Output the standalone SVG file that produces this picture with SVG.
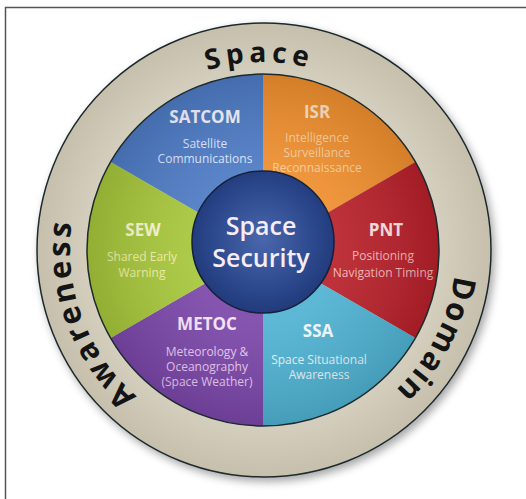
<svg xmlns="http://www.w3.org/2000/svg" width="526" height="499" viewBox="0 0 526 499">
<defs>
<style>
.ring{font-family:"Open Sans","DejaVu Sans",sans-serif;font-weight:700;fill:#141414}
.t{font-family:"Open Sans","DejaVu Sans",sans-serif;font-weight:700;font-size:17px;text-anchor:middle}
.s{font-family:"Open Sans","DejaVu Sans",sans-serif;font-weight:400;font-size:12px;text-anchor:middle}
.c{font-family:"Open Sans","DejaVu Sans",sans-serif;font-weight:600;font-size:25px;text-anchor:middle;fill:#f6ecf6}
.edge{fill:none;stroke:#1c2a2e;stroke-width:1.5}
</style>
<filter id="shadow" x="-10%" y="-10%" width="125%" height="125%">
<feDropShadow dx="3" dy="4" stdDeviation="4" flood-color="#000" flood-opacity="0.35"/>
</filter>
<radialGradient id="ringGrad" cx="0.5" cy="0.5" r="0.5">
<stop offset="0.75" stop-color="#d6d0c0"/>
<stop offset="1" stop-color="#c6bfac"/>
</radialGradient>
<radialGradient id="coreGrad" cx="0.5" cy="0.48" r="0.55">
<stop offset="0" stop-color="#4a66ac"/>
<stop offset="0.6" stop-color="#2e4b90"/>
<stop offset="1" stop-color="#1f3878"/>
</radialGradient>
<radialGradient id="shade" cx="263" cy="250" r="176" gradientUnits="userSpaceOnUse">
<stop offset="0.4" stop-color="#fff" stop-opacity="0.08"/>
<stop offset="1" stop-color="#000" stop-opacity="0.12"/>
</radialGradient>
<path id="pRing" d="M 263 443 A 193 193 0 1 1 263 57 A 193 193 0 1 1 263 443"/>
<path id="pTop" d="M 263 438 A 188 188 0 1 1 263 62 A 188 188 0 1 1 263 438"/>
</defs>
<rect x="0" y="0" width="526" height="499" fill="#fff"/>
<path d="M5.5 499 V7.5 H526" fill="none" stroke="#555" stroke-width="1.5"/>

<g id="outer-ring">
<circle cx="264" cy="250" r="227" fill="url(#ringGrad)" stroke="#1c2a2e" stroke-width="1.5" filter="url(#shadow)"/>
<text class="ring" font-size="28" letter-spacing="5"><textPath href="#pTop" startOffset="49.7%" text-anchor="middle">Space</textPath></text>
<text class="ring" font-size="31" letter-spacing="2"><textPath href="#pRing" startOffset="82.6%" text-anchor="middle">Domain</textPath></text>
<text class="ring" font-size="31" letter-spacing="3"><textPath href="#pRing" startOffset="19.4%" text-anchor="middle">Awareness</textPath></text>
</g>

<g id="satcom">
<path d="M263 250 L110.6 162 A176 176 0 0 1 263 74 Z" fill="#4d7bc5"/>
<text class="t" x="205" y="123" fill="#f4f4ff">SATCOM</text>
<text class="s" x="205" y="148" fill="#dfe6ff">Satellite</text>
<text class="s" x="205" y="163" fill="#dfe6ff">Communications</text>
</g>
<g id="isr">
<path d="M263 250 L263 74 A176 176 0 0 1 415.4 162 Z" fill="#f08f2e"/>
<text class="t" x="317" y="118" fill="#fde2c4">ISR</text>
<text class="s" x="317" y="142" fill="#f8cd98" font-size="11.5">Intelligence</text>
<text class="s" x="317" y="157" fill="#f8cd98" font-size="11.5">Surveillance</text>
<text class="s" x="317" y="172" fill="#f8cd98" font-size="11.5">Reconnaissance</text>
</g>
<g id="pnt">
<path d="M263 250 L415.4 162 A176 176 0 0 1 415.4 338 Z" fill="#b8202a"/>
<text class="t" x="386" y="236" fill="#fbe2e2">PNT</text>
<text class="s" x="383" y="260" fill="#f3b6b6">Positioning</text>
<text class="s" x="383" y="277" fill="#f3b6b6">Navigation Timing</text>
</g>
<g id="ssa">
<path d="M263 250 L415.4 338 A176 176 0 0 1 263 426 Z" fill="#4eb2d2"/>
<text class="t" x="318" y="337" fill="#f2faff">SSA</text>
<text class="s" x="319" y="364" fill="#e6f4fa">Space Situational</text>
<text class="s" x="319" y="379" fill="#e6f4fa">Awareness</text>
</g>
<g id="metoc">
<path d="M263 250 L263 426 A176 176 0 0 1 110.6 338 Z" fill="#7a46a8"/>
<text class="t" x="207" y="330" fill="#f4e2fa">METOC</text>
<text class="s" x="207" y="356" fill="#eac8f4">Meteorology &amp;</text>
<text class="s" x="207" y="371" fill="#eac8f4">Oceanography</text>
<text class="s" x="207" y="386" fill="#eac8f4">(Space Weather)</text>
</g>
<g id="sew">
<path d="M263 250 L110.6 338 A176 176 0 0 1 110.6 162 Z" fill="#a6c63a"/>
<text class="t" x="143" y="236" fill="#f6f6cc">SEW</text>
<text class="s" x="142" y="261" fill="#f0f0a6">Shared Early</text>
<text class="s" x="142" y="277" fill="#f0f0a6">Warning</text>
</g>
<circle cx="263" cy="250" r="176" fill="url(#shade)" pointer-events="none"/>
<circle class="edge" cx="263" cy="250" r="176"/>

<g id="core">
<circle cx="263" cy="242" r="71" fill="url(#coreGrad)" stroke="#14203c" stroke-width="1.5"/>
<text class="c" x="261" y="235">Space</text>
<text class="c" x="261" y="267">Security</text>
</g>

<g id="connectors"/>
</svg>
